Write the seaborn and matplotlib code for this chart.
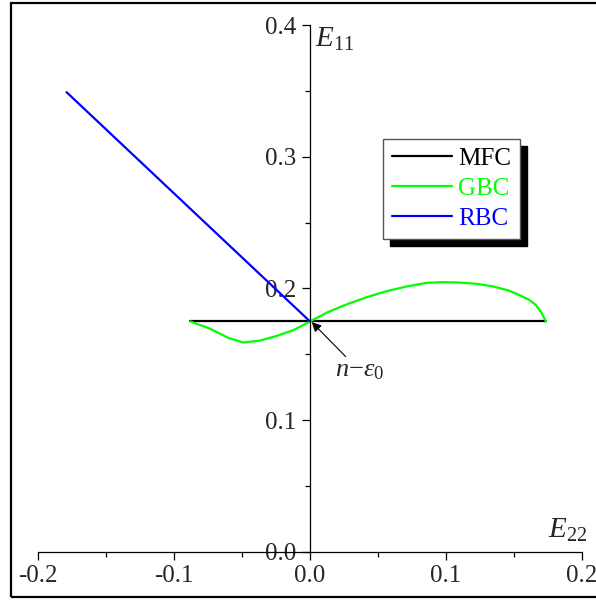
import numpy as np
import pandas as pd
import matplotlib
matplotlib.use("Agg")
import matplotlib.pyplot as plt
from matplotlib.patches import Rectangle
from matplotlib.ticker import MultipleLocator, FormatStrFormatter
import seaborn as sns

# Yield-surface traces in the (E22, E11) plane
mfc_e22 = [-0.088, 0.1735]
mfc_e11 = [0.175, 0.175]

gbc_e22 = [-0.088, -0.0735, -0.060, -0.049, -0.0368, -0.0245, -0.012, 0.0,
           0.013, 0.027, 0.042, 0.0564, 0.071, 0.0858, 0.098, 0.110, 0.123,
           0.135, 0.146, 0.154, 0.161, 0.166, 0.170, 0.1735]
gbc_e11 = [0.175, 0.1695, 0.1625, 0.159, 0.1605, 0.164, 0.1685, 0.175,
           0.182, 0.188, 0.1935, 0.198, 0.2015, 0.2043, 0.2048, 0.2045, 0.2035,
           0.2015, 0.1985, 0.195, 0.1915, 0.1875, 0.182, 0.175]

rbc_e22 = [-0.179, 0.0]
rbc_e11 = [0.349, 0.175]

series = ["MFC", "GBC", "RBC"]
colors = {"MFC": "#000000", "GBC": "#00FF00", "RBC": "#0000FF"}
traces = {"MFC": (mfc_e22, mfc_e11),
          "GBC": (gbc_e22, gbc_e11),
          "RBC": (rbc_e22, rbc_e11)}

df = pd.concat(
    [pd.DataFrame({"E22": xs, "E11": ys, "model": name})
     for name, (xs, ys) in traces.items()],
    ignore_index=True)

sns.set_style("ticks")
plt.rcParams["font.family"] = ["Liberation Serif", "DejaVu Serif"]
plt.rcParams["mathtext.fontset"] = "custom"
plt.rcParams["mathtext.rm"] = "Liberation Serif"
plt.rcParams["mathtext.it"] = "Liberation Serif:italic"
plt.rcParams["mathtext.bf"] = "Liberation Serif:bold"

W, H = 596, 601
fig = plt.figure(figsize=(W / 100, H / 100), dpi=100)
ax = fig.add_axes([38 / W, 49 / H, 544 / W, 527 / H])

for name in series:
    sub = df[df["model"] == name]
    sns.lineplot(x=sub["E22"].values, y=sub["E11"].values, sort=False,
                 estimator=None, color=colors[name], linewidth=1.6,
                 label=name, ax=ax)

ax.set_xlim(-0.2, 0.2)
ax.set_ylim(0.0, 0.4)
ax.set_xlabel("")
ax.set_ylabel("")

# axes crossing at the origin
for s in ["top", "right"]:
    ax.spines[s].set_visible(False)
ax.spines["left"].set_position(("data", 0.0))
ax.spines["bottom"].set_position(("data", 0.0))
for s in ["left", "bottom"]:
    ax.spines[s].set_linewidth(0.9)
    ax.spines[s].set_color("black")

ax.xaxis.set_major_locator(MultipleLocator(0.1))
ax.xaxis.set_minor_locator(MultipleLocator(0.05))
ax.yaxis.set_major_locator(MultipleLocator(0.1))
ax.yaxis.set_minor_locator(MultipleLocator(0.05))
ax.xaxis.set_major_formatter(FormatStrFormatter("%.1f"))
ax.yaxis.set_major_formatter(FormatStrFormatter("%.1f"))
ax.tick_params(which="major", direction="out", length=6, width=0.9,
               labelsize=18, pad=3, color="black")
ax.tick_params(which="minor", direction="out", length=3.5, width=0.9,
               color="black")
ax.tick_params(axis="y", which="major", pad=4)

ax.text(0.004, 0.389, "$E_{11}$", fontsize=21, ha="left", va="center")
ax.text(0.175, 0.0165, "$E_{22}$", fontsize=21, ha="left", va="center")

ax.annotate("$n{-}\\varepsilon_0$", xy=(0.0013, 0.1745),
            xytext=(0.0365, 0.1375), fontsize=19, ha="center", va="center",
            arrowprops=dict(arrowstyle="-|>", color="black", lw=0.8,
                            mutation_scale=14, shrinkA=0, shrinkB=0))

leg = ax.legend(loc="upper left", bbox_to_anchor=(0.634, 0.784),
                borderaxespad=0, fontsize=18, frameon=True, fancybox=False,
                framealpha=1, edgecolor="#555555", labelcolor="linecolor",
                handlelength=2.4, handletextpad=0.25, labelspacing=0.3,
                borderpad=0.35,
                shadow={"ox": 5, "oy": -5, "color": "black", "alpha": 1})
leg.get_frame().set_linewidth(1.0)

# outer frame around the figure
fig.add_artist(Rectangle((11 / W, 4 / H), (W + 5 - 11) / W, (597 - 3) / H,
                         transform=fig.transFigure, fill=False,
                         edgecolor="black", linewidth=1.6, clip_on=False))

fig.savefig("out.png", dpi=100)
